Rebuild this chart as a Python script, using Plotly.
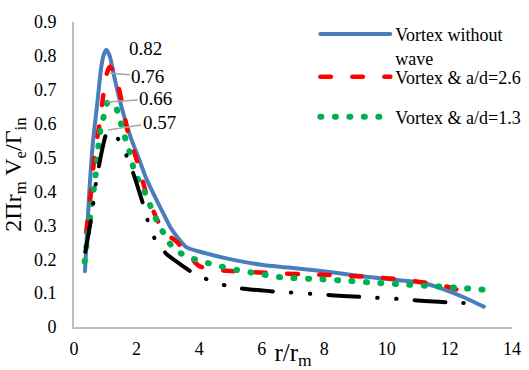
import plotly.graph_objects as go

# ---- data ----
blue_r = [0.35, 0.49, 0.61, 0.72, 0.79, 0.86, 0.94, 1.03, 1.14, 1.30, 1.46, 1.62, 1.84, 2.06, 2.30, 2.53, 2.80, 3.07, 3.33, 3.60, 4.03, 5.09, 6.05, 7.22, 8.30, 9.35, 10.40, 11.05, 11.80, 12.40, 13.10]
blue_v = [0.165, 0.40, 0.55, 0.64, 0.70, 0.76, 0.80, 0.818, 0.80, 0.733, 0.67, 0.616, 0.552, 0.50, 0.44, 0.395, 0.345, 0.296, 0.262, 0.235, 0.222, 0.198, 0.183, 0.172, 0.161, 0.148, 0.138, 0.132, 0.112, 0.090, 0.060]

red_r = [0.39, 0.56, 0.67, 0.82, 0.93, 1.04, 1.14, 1.26, 1.42, 1.58, 1.73, 1.94, 2.11, 2.31, 2.50, 2.75, 3.00, 3.30, 3.71, 4.00, 4.40, 5.00, 5.46, 6.37, 7.20, 8.27, 9.35, 10.40, 11.05, 11.50, 12.10, 12.70]
red_v = [0.28, 0.41, 0.52, 0.60, 0.68, 0.745, 0.768, 0.755, 0.71, 0.64, 0.571, 0.512, 0.46, 0.394, 0.35, 0.30, 0.272, 0.25, 0.207, 0.18, 0.170, 0.165, 0.163, 0.159, 0.156, 0.153, 0.148, 0.141, 0.133, 0.128, 0.115, 0.094]

green_r = [0.34, 0.45, 0.57, 0.69, 0.78, 0.87, 0.98, 1.07, 1.20, 1.32, 1.46, 1.57, 1.73, 1.84, 1.97, 2.21, 2.40, 2.57, 2.80, 3.01, 3.33, 3.76, 4.19, 4.64, 5.09, 5.54, 6.02, 6.47, 6.92, 7.86, 8.79, 9.70, 10.63, 11.56, 12.49, 13.10]
green_v = [0.193, 0.278, 0.363, 0.448, 0.535, 0.596, 0.630, 0.662, 0.662, 0.652, 0.616, 0.576, 0.532, 0.49, 0.45, 0.409, 0.367, 0.328, 0.288, 0.252, 0.222, 0.203, 0.191, 0.18, 0.17, 0.163, 0.155, 0.148, 0.145, 0.141, 0.136, 0.130, 0.125, 0.120, 0.114, 0.110]

black_r = [0.36, 0.55, 0.71, 0.87, 1.00, 1.08, 1.25, 1.43, 1.67, 1.90, 2.20, 2.37, 2.59, 2.96, 3.40, 3.80, 4.30, 4.90, 5.50, 6.50, 7.10, 7.70, 8.20, 9.30, 9.90, 10.50, 11.20, 12.10, 12.80]
black_v = [0.222, 0.32, 0.43, 0.51, 0.562, 0.577, 0.572, 0.552, 0.507, 0.452, 0.365, 0.31, 0.259, 0.215, 0.185, 0.16, 0.139, 0.121, 0.112, 0.104, 0.101, 0.097, 0.094, 0.088, 0.085, 0.082, 0.077, 0.072, 0.070]

series_names = ["Vortex without<br>wave", "Vortex & a/d=2.6", "Vortex & a/d=1.3", "Vortex & a/d=0.65"]

peak_labels = ["0.82", "0.76", "0.66", "0.57"]
peak_x = [2.27, 1.15, 1.05, 1.09]
peak_y = [0.823, 0.749, 0.664, 0.581]

x_ticks = [0, 2, 4, 6, 8, 10, 12, 14]
y_ticks = [0, 0.1, 0.2, 0.3, 0.4, 0.5, 0.6, 0.7, 0.8, 0.9]
y_tick_text = ["0", "0.1", "0.2", "0.3", "0.4", "0.5", "0.6", "0.7", "0.8", "0.9"]

FONT = "Times New Roman, Liberation Serif, serif"

fig = go.Figure()
fig.add_trace(go.Scatter(x=blue_r, y=blue_v, mode="lines", name=series_names[0], legend="legend",
                         line=dict(color="#4a7ebb", width=4, shape="spline", smoothing=0.6)))
fig.add_trace(go.Scatter(x=red_r, y=red_v, mode="lines", name=series_names[1], legend="legend2",
                         line=dict(color="#ff0000", width=4.5, dash="10.5px,21.5px", shape="spline", smoothing=0.6)))
fig.add_trace(go.Scatter(x=green_r, y=green_v, mode="lines", name=series_names[2], legend="legend3",
                         line=dict(color="#00b050", width=6, dash="1px,13.5px", shape="spline", smoothing=0.6)))
fig.add_trace(go.Scatter(x=black_r, y=black_v, mode="lines", name=series_names[3], showlegend=False,
                         line=dict(color="#000000", width=4, dash="31px,18px,0.5px,18.5px,0.5px,18px", shape="spline", smoothing=0.6)))

# peak value labels
fig.add_annotation(x=peak_x[0], y=peak_y[0], text=peak_labels[0], showarrow=False,
                   font=dict(family=FONT, size=19, color="black"))
offsets = [(0, 0), (38, 3), (49, -3), (51, -8)]
for i in range(1, 4):
    fig.add_annotation(x=peak_x[i], y=peak_y[i], text=peak_labels[i], showarrow=True,
                       arrowhead=0, arrowwidth=1.5, arrowcolor="#a6a6a6",
                       ax=offsets[i][0], ay=offsets[i][1],
                       font=dict(family=FONT, size=19, color="black"))

leg_common = dict(xanchor="left", valign="top", bgcolor="rgba(0,0,0,0)",
                  font=dict(family=FONT, size=18, color="black"), itemwidth=70)

fig.update_layout(
    width=529, height=370,
    margin=dict(l=74, r=17, t=22, b=43, autoexpand=False),
    paper_bgcolor="white", plot_bgcolor="white",
    font=dict(family=FONT, size=18, color="black"),
    legend=dict(x=0.551, y=1.02, yanchor="top", **leg_common),
    legend2=dict(x=0.551, y=0.8197, yanchor="middle", **leg_common),
    legend3=dict(x=0.551, y=0.6885, yanchor="middle", **leg_common),
    xaxis=dict(range=[0, 14], tickvals=x_ticks, showgrid=False, zeroline=False,
               showline=True, linecolor="#bfbfbf", linewidth=2, ticks="",
               ticklabelstandoff=4, automargin=False,
               tickfont=dict(family=FONT, size=18),
               title=dict(text="r/r<sub>m</sub>", font=dict(family=FONT, size=25), standoff=1)),
    yaxis=dict(range=[0, 0.9], tickvals=y_ticks, ticktext=y_tick_text, showgrid=False, zeroline=False,
               showline=True, linecolor="#bfbfbf", linewidth=2, ticks="",
               ticklabelstandoff=12, automargin=False,
               tickfont=dict(family=FONT, size=18),
               title=dict(text="2Πr<sub>m</sub> V<sub>e</sub>/Γ<sub>in</sub>", font=dict(family=FONT, size=24), standoff=8)),
)

post = ("var s=document.createElement('style');"
        "s.innerHTML='path.js-line{stroke-linecap:round !important;}';"
        "document.head.appendChild(s);")
fig.write_html("out.html", post_script=post)
